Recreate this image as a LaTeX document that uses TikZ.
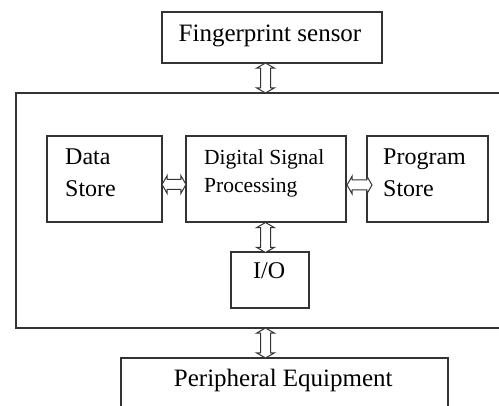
\documentclass[tikz,border=0pt]{standalone}
\usepackage{fontspec}
\setmainfont{Liberation Serif}
\usetikzlibrary{shapes.arrows}
\begin{document}
\begin{tikzpicture}[x=1pt,y=-1pt,
  box/.style={draw=black!80, line width=1.4pt, inner sep=0pt},
  lbl/.style={inner sep=0pt, font=\fontsize{24}{32}\selectfont},
  widelbl/.style={inner sep=0pt, font=\fontsize{25}{32}\selectfont},
  dsplbl/.style={inner sep=0pt, font=\fontsize{21.5}{28}\selectfont},
  dblarr/.style={draw=black!80, line width=1pt, fill=white, double arrow,
    double arrow head extend=4pt, double arrow tip angle=120,
    inner xsep=0pt, inner ysep=4.5pt, outer sep=0pt}]
\useasboundingbox (0,0) rectangle (499,406);
\clip (0,0) rectangle (499,406);
% boxes
\node[box, minimum width=220, minimum height=51] (fp) at (272,37.5) {};
\node[box, minimum width=504, minimum height=235] (outer) at (268,210.5) {};
\node[box, minimum width=327, minimum height=62] (per) at (284.5,389) {};
\node[box, minimum width=115, minimum height=86] (ds) at (104.5,179) {};
\node[box, minimum width=160, minimum height=86] (dsp) at (266,179) {};
\node[box, minimum width=121, minimum height=86] (ps) at (427.5,179) {};
\node[box, minimum width=78, minimum height=56] (io) at (270,280) {};
% texts
\node[widelbl, anchor=base] (fpT) at (270,42) {Fingerprint sensor};
\node[lbl, anchor=base west] (dsT) at (65,165) {\begin{tabular}[t]{@{}l@{}}Data\\Store\end{tabular}};
\node[dsplbl, anchor=base west] (dspT) at (204,165) {\begin{tabular}[t]{@{}l@{}}Digital Signal\\Processing\end{tabular}};
\node[lbl, anchor=base west] (psT) at (383,165) {\begin{tabular}[t]{@{}l@{}}Program\\Store\end{tabular}};
\node[lbl, anchor=base west] (ioT) at (253,279) {I/O};
\node[widelbl, anchor=base] (perT) at (283.3,387) {Peripheral Equipment};
% double arrows
\node[dblarr, rotate=90, minimum height=30] (a1) at (265.5,78) {};
\node[dblarr, minimum height=24] (a2) at (174,184.5) {};
\node[dblarr, minimum height=25] (a3) at (359.5,185) {};
\node[dblarr, rotate=90, minimum height=30] (a4) at (265.5,237.5) {};
\node[dblarr, rotate=90, minimum height=30] (a5) at (265.5,343) {};
\end{tikzpicture}
\end{document}
